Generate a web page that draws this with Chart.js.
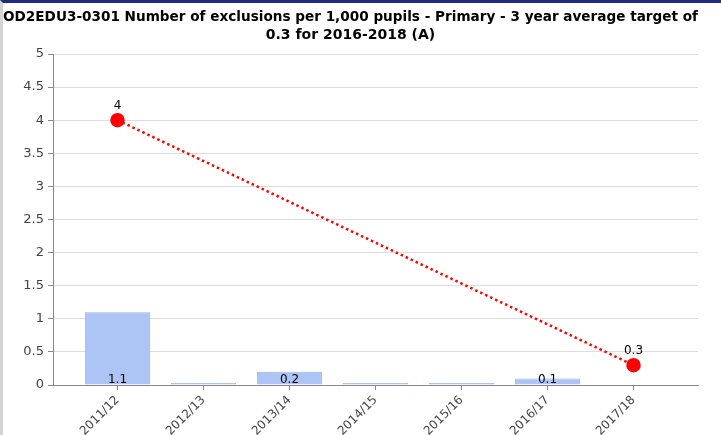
<!DOCTYPE html>
<html>
<head>
<meta charset="utf-8">
<script src="https://cdn.jsdelivr.net/npm/chart.js@4"></script>
<style>
  html, body { margin: 0; padding: 0; background: #fff; }
  .frame {
    position: relative;
    width: 721px;
    height: 435px;
    box-sizing: border-box;
    border-top: 3px solid #1f2a80;
    border-left: 3px solid #d4d4d4;
  }
  canvas { display: block; }
</style>
</head>
<body>
<div class="frame">
  <canvas id="chart" width="718" height="432"></canvas>
</div>
<script>
const categories = ["2011/12", "2012/13", "2013/14", "2014/15", "2015/16", "2016/17", "2017/18"];
const barValues = [1.1, 0, 0.2, 0, 0, 0.1, null];
const targetValues = [4, null, null, null, null, null, 0.3];
const yTicks = [0, 0.5, 1, 1.5, 2, 2.5, 3, 3.5, 4, 4.5, 5];

const labelFont = "Tahoma, 'DejaVu Sans', sans-serif";

// Draws value labels: inside the bar bottom for bars, above the point for the line.
const valueLabels = {
  id: "valueLabels",
  afterDatasetsDraw(chart) {
    const ctx = chart.ctx;
    ctx.save();
    ctx.fillStyle = "#000";
    ctx.font = "12px " + labelFont;
    ctx.textAlign = "center";
    ctx.textBaseline = "bottom";
    chart.data.datasets.forEach((ds, i) => {
      const meta = chart.getDatasetMeta(i);
      meta.data.forEach((el, j) => {
        const v = ds.data[j].y;
        if (v === null || v === 0) return;
        if (ds.type === "bar") {
          ctx.fillText(String(v), el.x, el.base + 1);
        } else {
          ctx.fillText(String(v), el.x, el.y - 8);
        }
      });
    });
    ctx.restore();
  }
};

new Chart(document.getElementById("chart"), {
  data: {
    datasets: [
      {
        type: "line",
        data: targetValues.map((v, i) => ({ x: i, y: v })),
        borderColor: "#ff0000",
        borderWidth: 2.5,
        borderDash: [2.5, 3],
        pointRadius: 6,
        pointBackgroundColor: "#ff0000",
        pointBorderColor: "#ff0000",
        spanGaps: true,
        order: 0
      },
      {
        type: "bar",
        data: barValues.map((v, i) => ({ x: i, y: v })),
        backgroundColor: "#adc5f4",
        borderColor: "#93b2ee",
        borderWidth: 1,
        minBarLength: 2,
        barPercentage: 0.76,
        categoryPercentage: 1,
        order: 1
      }
    ]
  },
  options: {
    responsive: false,
    animation: false,
    layout: { padding: { left: 0, right: 23, top: 0, bottom: 0 } },
    plugins: {
      legend: { display: false },
      tooltip: { enabled: false },
      title: {
        display: true,
        text: [
          "OD2EDU3-0301 Number of exclusions per 1,000 pupils - Primary - 3 year average target of",
          "0.3 for 2016-2018 (A)"
        ],
        color: "#000",
        font: { family: labelFont, size: 14, weight: "bold", lineHeight: 1.25 },
        padding: { top: 6, bottom: 10 }
      }
    },
    scales: {
      x: {
        type: "linear",
        offset: false,
        min: -0.75,
        max: 6.75,
        afterBuildTicks(scale) {
          scale.ticks = categories.map((c, i) => ({ value: i }));
        },
        afterFit(scale) { scale.height = 50; },
        ticks: {
          callback: (v) => categories[v],
          color: "#444",
          font: { family: labelFont, size: 12 },
          minRotation: 45,
          maxRotation: 45,
          autoSkip: false
        },
        grid: { offset: false, drawOnChartArea: false, color: "#888", tickLength: 5 },
        border: { color: "#888" }
      },
      y: {
        min: 0,
        max: 5,
        afterBuildTicks(scale) {
          scale.ticks = yTicks.map((v) => ({ value: v }));
        },
        afterFit(scale) { scale.width = 50; },
        ticks: {
          callback: (v) => String(v),
          color: "#444",
          font: { family: labelFont, size: 13 },
          padding: 4
        },
        grid: { color: "#dddddd", tickLength: 5, tickColor: "#888" },
        border: { color: "#888" }
      }
    }
  },
  plugins: [valueLabels]
});
</script>
</body>
</html>
